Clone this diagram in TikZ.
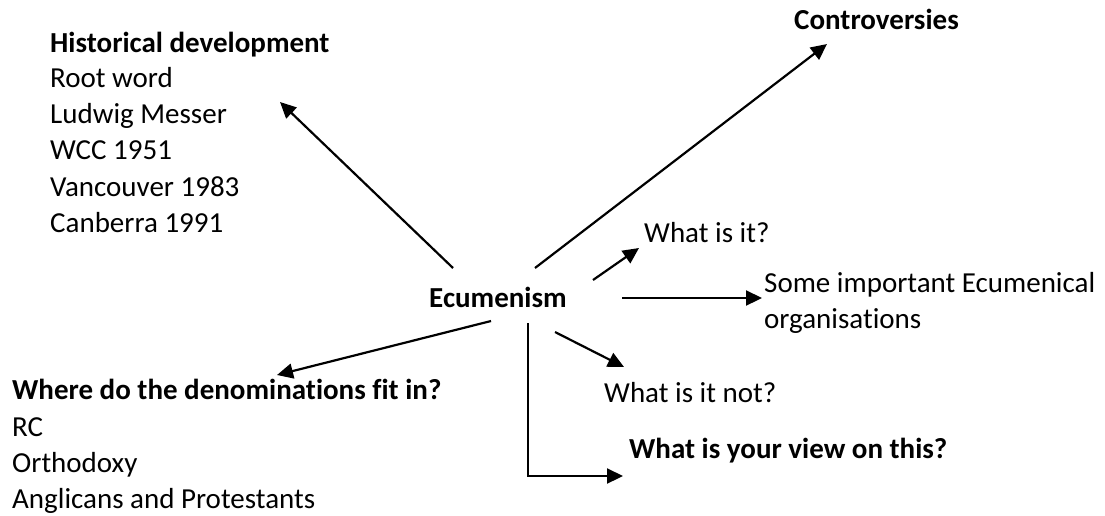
\documentclass[tikz,border=0pt]{standalone}
\usepackage{fontspec}
\setmainfont{Carlito}[Ligatures={NoCommon}]
\usetikzlibrary{arrows.meta}
\begin{document}
\begin{tikzpicture}[x=1pt,y=-1pt,
  txt/.style={anchor=base west, inner sep=0pt, font=\fontsize{29}{36}\selectfont},
  bold/.style={txt, font=\fontsize{29}{36}\selectfont\bfseries},
  link/.style={line width=2.2pt, -{Triangle[length=16pt,width=15pt]}}]
\useasboundingbox (0,0) rectangle (1105,515);

% centre topic
\node[bold] (ecu) at (429,307) {Ecumenism};

% historical development block
\node[bold] (hist) at (50,52) {Historical development};
\node[txt] (h1) at (50,87) {Root word};
\node[txt] (h2) at (50,123) {Ludwig Messer};
\node[txt] (h3) at (50,159) {WCC 1951};
\node[txt] (h4) at (50,196) {Vancouver 1983};
\node[txt] (h5) at (50,232) {Canberra 1991};

% other branches
\node[bold] (contr) at (794,29) {Controversies};
\node[txt] (what) at (644,242) {What is it?};
\node[txt] (orgs) at (764,292) {Some important Ecumenical};
\node[txt] (orgs2) at (764,328) {organisations};
\node[txt] (whatnot) at (604,402) {What is it not?};
\node[bold] (view) at (629,458) {What is your view on this?};

% denominations block
\node[bold] (where) at (12,399) {Where do the denominations fit in?};
\node[txt] (d1) at (12,436) {RC};
\node[txt] (d2) at (12,472) {Orthodoxy};
\node[txt] (d3) at (12,508) {Anglicans and Protestants};

% arrow ends around the centre topic
\coordinate (s-hist) at (453,268);
\coordinate (s-contr) at (535,268);
\coordinate (s-what) at (593,280);
\coordinate (s-orgs) at (622,298);
\coordinate (s-not) at (555,332);
\coordinate (s-where) at (491,321);
\coordinate (s-view) at (528,323);

% arrow tips next to the branch labels
\coordinate (t-hist) at (280,102);
\coordinate (t-contr) at (827,44);
\coordinate (t-what) at (639,248);
\coordinate (t-orgs) at (762,298);
\coordinate (t-not) at (624,367);
\coordinate (t-where) at (277,375);
\coordinate (t-view) at (623,476);

\draw[link] (s-hist) -- (t-hist);
\draw[link] (s-contr) -- (t-contr);
\draw[link] (s-what) -- (t-what);
\draw[link] (s-orgs) -- (t-orgs);
\draw[link] (s-not) -- (t-not);
\draw[link] (s-where) -- (t-where);
\draw[link] (s-view) |- (t-view);
\end{tikzpicture}
\end{document}
